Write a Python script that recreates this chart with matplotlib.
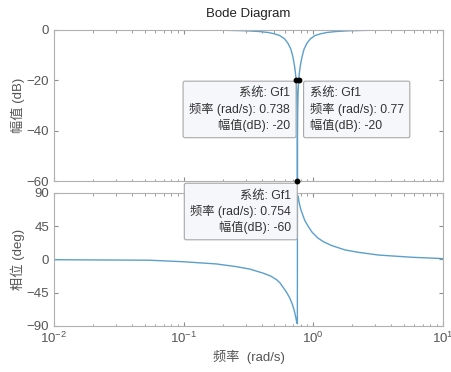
#!/usr/bin/env python3
"""Bode diagram of notch filter Gf1 with three data tips."""
import matplotlib

matplotlib.use("Agg")
import matplotlib.pyplot as plt  # noqa: E402

plt.rcParams["font.family"] = ["Liberation Sans", "Noto Sans CJK SC", "DejaVu Sans"]

# magnitude (rad/s, dB)
MAG_W = [0.01, 0.1, 0.2, 0.3, 0.38, 0.45, 0.5, 0.55, 0.6, 0.636, 0.67, 0.695, 0.715,
         0.728, 0.738, 0.745, 0.75, 0.7535, 0.754, 0.7545, 0.758, 0.763, 0.77, 0.781,
         0.795, 0.82, 0.85, 0.895, 0.95, 1.03, 1.14, 1.27, 1.5, 1.9, 2.8, 5.7, 10.0]
MAG_DB = [0.0, -0.02, -0.1, -0.3, -0.6, -1.0, -1.5, -2.2, -3.5, -5.2, -7.5, -10.5, -14,
          -17, -20, -25, -32, -45, -60, -45, -32, -25, -20, -17,
          -14, -10.5, -7.5, -5.2, -3.5, -2.2, -1.5, -1.0, -0.6, -0.3, -0.1, -0.02, 0.0]

# phase (rad/s, deg)
PH_W = [0.01, 0.0546, 0.0985, 0.178, 0.255, 0.324, 0.412, 0.47, 0.524, 0.555, 0.58,
        0.62, 0.66, 0.69, 0.71, 0.728, 0.745, 0.7535, 0.7545, 0.763, 0.78, 0.80,
        0.83, 0.861, 0.92, 0.98, 1.085, 1.2, 1.38, 1.75, 2.23, 3.19, 5.77, 10.0]
PH_DEG = [-0.3, -1, -3, -6, -9.7, -13, -18.6, -22.5, -27.7, -32, -36.8,
          -44, -52.5, -61, -68, -76, -85, -87, 87, 85, 76, 68,
          60, 52.5, 44, 36.8, 29, 24, 19, 13, 9.7, 6, 3, 1.2]

# data tips: (freq, dB)
TIPS = [(0.738, -20), (0.77, -20), (0.754, -60)]

LINE = "#5b9fcb"
GRAY = "#8c8c8c"
TXT = "#555555"


def style(ax):
    ax.set_xscale("log")
    ax.set_xlim(0.01, 10)
    ax.tick_params(which="both", direction="in", top=True, right=True,
                   colors=GRAY, labelcolor=TXT, labelsize=9.5)
    ax.tick_params(which="major", length=3)
    ax.tick_params(which="minor", length=1.8)
    for s in ax.spines.values():
        s.set_color("#b0b0b0")
        s.set_linewidth(0.8)


fig = plt.figure(figsize=(4.51, 3.72), dpi=100)
ax1 = fig.add_axes([0.1197, 0.5134, 0.8625, 0.406])
ax2 = fig.add_axes([0.1197, 0.1237, 0.8625, 0.3575])
ax1.set_zorder(3)

ax1.plot(MAG_W, MAG_DB, color=LINE, lw=1.0)
ax1.set_ylim(-60, 0)
ax1.set_yticks([0, -20, -40, -60])
style(ax1)
ax1.tick_params(labelbottom=False)
ax1.set_ylabel("幅值 (dB)", color=TXT, fontsize=9.5, labelpad=1)
ax1.set_title("Bode Diagram", fontsize=9.5, color="#222222", pad=9)

ax2.plot(PH_W, PH_DEG, color=LINE, lw=1.0)
ax2.set_ylim(-90, 90)
ax2.set_yticks([90, 45, 0, -45, -90])
style(ax2)
ax2.set_ylabel("相位 (deg)", color=TXT, fontsize=9.5, labelpad=1)
ax2.set_xlabel("频率  (rad/s)", color=TXT, fontsize=9.5, labelpad=3)

# data tip markers
for w, db in TIPS:
    ax1.plot(w, db, "o", color="black", ms=3.2, clip_on=False, zorder=9)

box = dict(boxstyle="round,pad=0.5,rounding_size=0.15", fc="#f6f7fb", ec="#a8a8a8", lw=0.8)
texts = [
    (TIPS[0], "系统: Gf1\n频率 (rad/s): 0.738\n幅值(dB): -20", "right", (-4.5, -5)),
    (TIPS[1], "系统: Gf1\n频率 (rad/s): 0.77\n幅值(dB): -20", "left", (8, -5)),
    (TIPS[2], "系统: Gf1\n频率 (rad/s): 0.754\n幅值(dB): -60", "right", (-4.5, -6)),
]
for (w, db), s, ha, off in texts:
    ax1.annotate(s, xy=(w, db), xytext=off, textcoords="offset points",
                 ha=ha, va="top", multialignment=ha, fontsize=8.8, color="#333333",
                 linespacing=1.3, bbox=box, zorder=8, annotation_clip=False)

fig.savefig("out.png", dpi=100)
